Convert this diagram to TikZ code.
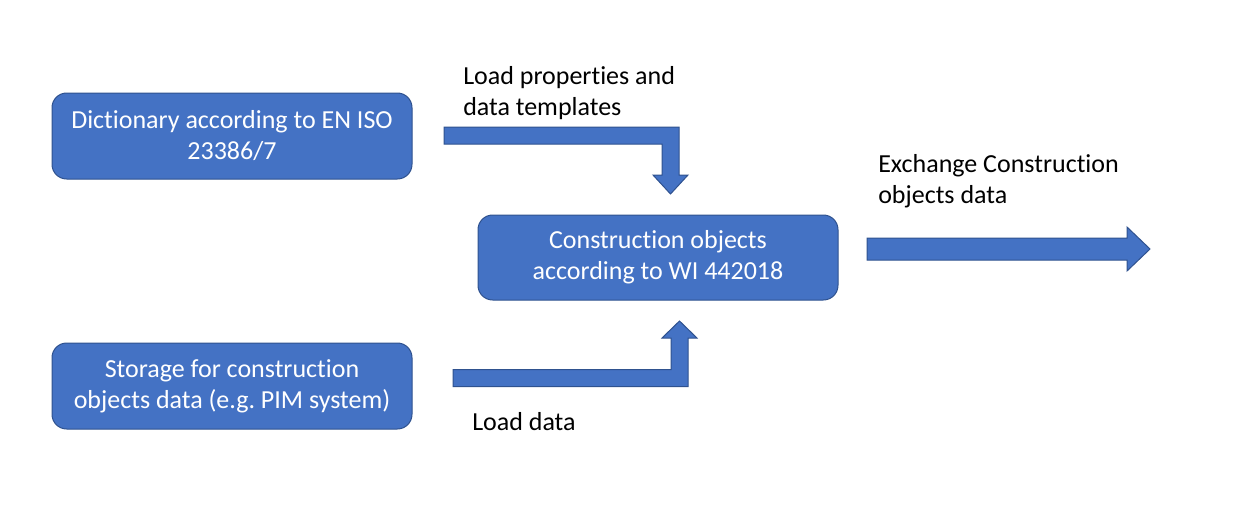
\documentclass[tikz,border=0pt]{standalone}
\usepackage{fontspec}
\setmainfont{Carlito}[Ligatures=NoCommon]
\usepackage{tikz}
\usetikzlibrary{arrows.meta,positioning,calc}
\definecolor{boxblue}{HTML}{4472C4}
\definecolor{edgeblue}{HTML}{2F528F}
\newcommand{\labelfont}{\fontsize{19.5pt}{23.25pt}\selectfont}
\frenchspacing

\begin{document}
\begin{tikzpicture}[x=0.75pt,y=-0.75pt,
  blockbox/.style={draw=edgeblue,fill=boxblue,line width=0.75pt,rounded corners=11pt,
    minimum width=270pt,minimum height=64.5pt,text=white,align=center,font=\labelfont},
  blockarrow/.style={draw=edgeblue,fill=boxblue,line width=0.75pt,line join=miter},
  note/.style={anchor=west,inner sep=0pt,align=left,font=\labelfont}]
\useasboundingbox (0,0) rectangle (1239,519);
\node[blockbox] (dict) at (232,136) {Dictionary according to EN ISO\\23386/7};
\node[blockbox] (store) at (232,386) {Storage for construction\\objects data (e.g. PIM system)};
\node[blockbox,minimum height=63.75pt] (cobj) at (658,257.5) {Construction objects\\according to WI 442018};
\draw[blockarrow] (444,127) -- (679,127) -- (679,175) -- (688,175) -- (670.5,194) -- (653,175)
  -- (662,175) -- (662,144) -- (444,144) -- cycle;
\draw[blockarrow] (453,369.5) -- (671,369.5) -- (671,338) -- (662,338) -- (679.5,321) -- (697,338)
  -- (688,338) -- (688,386.5) -- (453,386.5) -- cycle;
\draw[blockarrow] (867,238) -- (1127,238) -- (1127,227) -- (1150,249) -- (1127,271) -- (1127,260)
  -- (867,260) -- cycle;
\node[note] (loadprop) at (463,93.5) {Load properties and\\data templates};
\node[note] (exch) at (878,181) {Exchange Construction\\objects data};
\node[note] (loaddata) at (472,422) {Load data};
\end{tikzpicture}
\end{document}
